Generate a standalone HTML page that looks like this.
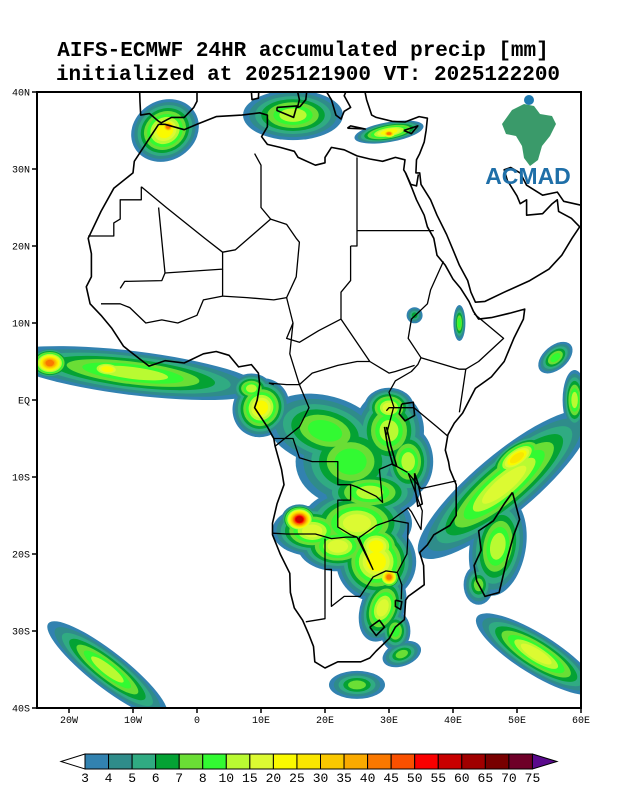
<!DOCTYPE html>
<html><head><meta charset="utf-8">
<style>
html,body{margin:0;padding:0;background:#fff;}
svg{display:block;}
text{font-family:"Liberation Mono",monospace;}
</style></head>
<body>
<svg id="chart" width="618" height="800" viewBox="0 0 618 800" xmlns="http://www.w3.org/2000/svg">
<text x="303" y="56" font-size="21" font-weight="bold" text-anchor="middle">AIFS-ECMWF 24HR accumulated precip [mm]</text>
<text x="308" y="80" font-size="21" font-weight="bold" text-anchor="middle">initialized at 2025121900 VT: 2025122200</text>
<defs><clipPath id="frameClip"><rect x="37" y="92" width="544" height="616"/></clipPath></defs>
<g id="precip" clip-path="url(#frameClip)"></g>
<g id="coast" clip-path="url(#frameClip)" fill="none" stroke="#000" stroke-width="1.6" stroke-linejoin="round"></g>
<rect x="37" y="92" width="544" height="616" fill="none" stroke="#000" stroke-width="2"/>
<g id="axes"></g>
<g id="logo">
  <path d="M512,110 l12,-6 l10,2 l6,8 l12,2 l4,8 l-6,12 l-8,10 l-4,14 l-8,6 l-6,-8 l-2,-12 l-6,-10 l-10,-2 l-4,-10 z" fill="#3a9a6a"/>
  <circle cx="529" cy="100" r="5" fill="#1f7ab0"/>
  <text x="528" y="184" font-size="23" font-weight="bold" fill="#1f6fa8" text-anchor="middle" style="font-family:'Liberation Sans',sans-serif">ACMAD</text>
</g>
<g id="cbar"></g>
</svg>
<script>
// ----- data -----
const lonTicks = [-20,-10,0,10,20,30,40,50,60];
const lonLabels = ["20W","10W","0","10E","20E","30E","40E","50E","60E"];
const latTicks = [40,30,20,10,0,-10,-20,-30,-40];
const latLabels = ["40N","30N","20N","10N","EQ","10S","20S","30S","40S"];
const levelLabels = ["3","4","5","6","7","8","10","15","20","25","30","35","40","45","50","55","60","65","70","75"];
const levelColors = ["#3282b0","#2f8c8a","#30ab82","#04a234","#6ade35","#32fa32","#b9fa32","#dcfa32","#fafa00","#fae600","#fac800","#faaa00","#fa7800","#fa5000","#fa0000","#c80000","#a00000","#780000","#6e0028"];
// precip features: lon, lat, rx(px), ry(px), rotation(deg), peak level index
const featLon  = [-10,-23,-14, 10, 8.5, 20, 24, 30, 33, 27, 25, 28, 30, 28, 22, 16, 18, 29, 31, 48, 50, 59, 56, 47, 44,-14, 53, 32, 25, -5,-4.5, 15, 30, 30, 41, 34, 30];
const featLat  = [3.5, 4.8, 4, -1, 1.5, -4, -8, -4, -8, -12, -16, -21, -23, -19, -19, -15.5, -17, -27, -30, -11, -7.5, 0, 5.5, -19, -24, -35, -33, -33, -37, 35, 35.5, 37, 34.8, 34.6, 10, 11, -1];
const featRx   = [130, 20, 25, 28, 20, 60, 55, 35, 25, 50, 55, 40, 12, 30, 40, 18, 40, 22, 15, 110, 35, 12, 20, 28, 15, 75, 70, 20, 28, 35, 10, 50, 35, 10, 6, 8, 25];
const featRy   = [22, 15, 12, 30, 15, 35, 45, 40, 35, 25, 35, 40, 12, 25, 25, 15, 25, 35, 20, 30, 16, 30, 12, 50, 20, 18, 20, 12, 14, 30, 10, 25, 10, 6, 18, 8, 20];
const featRot  = [7, 0, 5, 30, 0, 15, 0, 0, 0, 0, 0, 0, 0, 0, 0, 0, 0, 20, 0, -40, -35, 0, -40, 10, 0, 38, 32, -20, 0, -30, 0, 0, -10, 0, 0, 0, 0];
const featPeak = [6, 12, 8, 8, 6, 5, 5, 6, 6, 6, 7, 8, 12, 8, 7, 15, 7, 7, 5, 7, 9, 6, 5, 6, 4, 6, 7, 4, 4, 8, 12, 6, 8, 12, 5, 3, 7];

const NS = "http://www.w3.org/2000/svg";
function X(lon){return 37+(lon+25)*6.4;}
function Y(lat){return 92+(40-lat)*7.7;}
function mk(tag, attrs, parent){const e=document.createElementNS(NS,tag);for(const k in attrs)e.setAttribute(k,attrs[k]);parent.appendChild(e);return e;}

// ----- precip -----
const pg=document.getElementById('precip');
const maxPeak=Math.max(...featPeak);
for(let lvl=0;lvl<=maxPeak;lvl++){
  for(let i=0;i<featLon.length;i++){
    const p=featPeak[i];
    if(lvl>p) continue;
    const s=1-0.85*lvl/(p+1);
    const cx=X(featLon[i]), cy=Y(featLat[i]);
    const e=mk('ellipse',{cx:cx,cy:cy,rx:featRx[i]*s,ry:featRy[i]*s,transform:`rotate(${featRot[i]} ${cx} ${cy})`,fill:levelColors[lvl]},pg);
    
    
  }
}

// ----- coastlines (lon,lat) -----
const shapes = [
 [[-6,35.8],[-9.8,31],[-10,29.5],[-13,27.5],[-15,24.5],[-17,21],[-16.5,19],[-16.5,16],[-17.3,14.7],[-16.7,12.5],[-15,11],[-13.3,9.3],[-11.5,7],[-10,6],[-7.5,4.4],[-5,5.1],[-2,4.8],[1,6],[3,6.3],[5,5.8],[6.5,4.3],[8.5,4.6],[9.6,3.5],[9.8,2],[9.4,0],[9,-1],[11,-3.5],[12,-5],[12.2,-6],[13.2,-9],[13.6,-11],[12.5,-13.5],[11.8,-16],[11.8,-17.5],[13,-20],[14.5,-22.5],[14.6,-25],[15.2,-27],[16.5,-28.6],[17.5,-30.5],[18.2,-32],[18.4,-34],[20,-34.8],[22,-34],[25.6,-34],[27,-33.5],[28,-32.6],[30,-31],[31,-29.5],[32.4,-28.5],[32.6,-26],[33,-25.5],[35.5,-24],[35.4,-21.5],[34.8,-19.8],[36,-18.8],[37,-17.5],[39.5,-16.3],[40.5,-15],[40.5,-11],[39.5,-9],[39.3,-8],[38.8,-6.5],[39.2,-4.5],[40.2,-3],[41.5,-1.7],[43.5,1.5],[46,3],[48,5],[49.5,8],[51,10.5],[51.2,11.8],[49,11.3],[46,10.7],[44,10.5],[43.2,11.5],[42.5,12.8],[41.2,14.5],[40,15.7],[38.8,17.5],[37.5,18.8],[37,21],[36,22.5],[35.5,24],[34.3,26],[33.6,27.5],[32.6,29.5],[32.3,29.9],[32.5,31.2],[31,31.5],[29,31],[27,31.3],[25,31.7],[23,32.5],[21,32.8],[20,31.5],[20,30.8],[18.5,30.5],[15.8,31.5],[15.2,32.3],[13,32.8],[11,33.2],[10.1,34.2],[11,35.5],[11,37],[9.8,37.3],[7,37],[3,36.8],[0,35.8],[-2,35.1],[-5,35.8],[-6,35.8]],
 [[-9,41],[-8.9,38.7],[-8.8,37],[-7.4,37.2],[-6,36.2],[-5.6,36],[-4,36.7],[-2,36.7],[-0.5,38],[0,38.8],[0,40],[0.5,41]],
 [[15.6,40.5],[16,39],[15.7,38],[16.1,38.1],[17,39],[17.2,40.5],[18.5,40.2]],
 [[12.5,38],[15.6,38.2],[15.1,36.7],[12.5,37.6],[12.5,38]],
 [[8.4,41],[8.6,39],[9.6,39.2],[9.7,41]],
 [[19.5,41],[21,39],[21.7,37],[22.5,36.5],[23,37.5],[24,38],[23,39.5],[23.5,40.5],[26,41]],
 [[23.5,35.3],[26.3,35.2],[24,35.6],[23.5,35.3]],
 [[26,41],[26.5,39],[27.3,37],[28,36.7],[30.5,36.2],[32.5,36.1],[34.7,36.8],[36,36.6],[35.8,35],[35.5,33.5],[34.8,32],[34.3,31.2],[34.2,29.5],[34.8,29.5],[35,28],[36.5,26],[37.5,24],[39,21.5],[40,19.5],[41,17.5],[42.3,15.5],[42.8,14],[43.5,12.7],[45,12.8],[48,14],[52,15.5],[55,17],[57,18.8],[58.6,21],[59.8,22.5],[58.5,23.6],[56.5,24.5],[56.3,26],[55.5,25.5],[54,24.2],[51.5,24],[51.5,26],[50.5,25.5],[50,26.5],[48.5,28.5],[48,29.9],[49,30.2],[50.5,29.5],[51.5,27.9],[54,26.6],[56.3,27],[57.3,25.8],[60,25.3],[61,25.2]],
 [[32.3,35],[34.5,35.6],[33.5,34.6],[32.3,35]],
 [[32.6,29.5],[33.4,28],[34.3,27.8],[34.6,29.3]],
 [[49.3,-12],[50.4,-15.5],[49.5,-17.5],[48.5,-20.5],[47.2,-25],[45,-25.5],[43.7,-23.5],[43.3,-21.5],[44.4,-19.5],[44,-17],[46.3,-15.7],[48,-13.5],[49.3,-12]],
 [[32,-0.5],[33.8,-0.3],[34,-2],[32.5,-2.7],[31.6,-1.8],[32,-0.5]],
 [[29.3,-3.5],[29.8,-6],[30.6,-8.4],[31.2,-8.6],[30.3,-6],[29.6,-3.5]],
 [[34,-9.5],[34.6,-11],[35.2,-13.5],[34.5,-13.8],[34.1,-11.5],[34,-9.5]],
 [[27,-29.5],[28.5,-28.6],[29.3,-29.5],[28,-30.6],[27,-29.5]],
 [[31,-26],[32,-26.2],[31.8,-27.2],[31,-26.8],[31,-26]],
];
const borders = [
 [[-8.7,27.7],[-4.8,25],[1.2,21],[4,19.2],[6,19.5],[11.5,23.5],[14,22.8],[15.5,21],[16,20.5],[15.5,16],[14,13.3]],
 [[11.5,23.5],[10,25],[10,30.5],[9,32]],
 [[24,20],[25,20],[25,31.5]],
 [[25,22],[37,22]],
 [[24,20],[24,15.5],[22.5,14],[22.5,10.5],[27,5],[30,3.5],[31,3.7],[34,4.5]],
 [[-17,21.3],[-13,21.3],[-13,23],[-12,23.5],[-12,26],[-8.7,26],[-8.7,27.7]],
 [[-6,25],[-5,16.5],[-5.5,15.5],[-11.3,15.4],[-12,14.5]],
 [[-5,16.5],[4,17],[4,19.2]],
 [[4,17],[4,13.5],[1,13],[0,11],[-3,10],[-5.5,10.4],[-8,10],[-10.5,12],[-12,12.5],[-15,12.5]],
 [[4,13.5],[7.8,13.3],[12,13],[14,13.3],[15,10],[14,8],[16,7.5],[19,9],[22.5,10.5]],
 [[15,10],[14.5,6],[16,2],[18,3.5],[22,4.5],[25,5],[27,5]],
 [[12,2],[11.3,2.2],[14,2],[16,2]],
 [[16,2],[17.5,-1],[16,-3.5],[12.2,-6]],
 [[12,-5],[15,-5],[16,-7.5],[18,-8],[22,-8],[22,-11],[24,-11],[24,-13],[22,-13],[22,-16.5],[24,-17.5],[25,-17.8]],
 [[11.8,-17.3],[14,-17.4],[18.5,-17.4],[21,-18],[23.3,-17.8],[25,-17.8]],
 [[20,-18],[20,-22],[20,-24.8],[20,-28.4],[17,-28.8]],
 [[20,-22],[21,-22],[21,-26.8],[23,-25.5],[25.5,-25.5],[27.5,-23],[29.5,-22.2],[31.3,-22.4],[32,-24],[31.9,-25.9]],
 [[25.3,-17.9],[27.5,-22],[25,-17.8]],
 [[25.3,-17.9],[28,-16.3],[30.4,-15.6],[33,-16],[32.9,-18.5],[32.8,-20],[31.3,-22.4]],
 [[30.4,-15.6],[33,-14],[33.5,-14.5],[35,-16.8],[35.2,-14.4],[33,-9.5]],
 [[24,-11],[25,-11.3],[28,-12.5],[29,-13.3],[28.5,-9],[30.5,-8.3],[32.9,-9.4]],
 [[33,-9.5],[35,-11.5],[40.5,-10.5]],
 [[29.6,-4.5],[30.7,-1],[33.9,-1],[37.5,-3.5],[39.2,-4.7]],
 [[29.6,-1.4],[30,-1],[30.8,-1],[30,1],[31,2.5],[33.5,3.7],[34.5,4.6],[35,5.5],[41,4],[42,4],[41,-1.6]],
 [[35,5.5],[33,8],[33.5,10.5],[36,12.5],[36.5,14.3],[38.5,18]],
 [[42,4],[44,5],[47.9,8],[43.3,11.2]],
];
const cg=document.getElementById('coast');
function pathFor(pts){return pts.map((p,i)=>(i?'L':'M')+X(p[0]).toFixed(1)+','+Y(p[1]).toFixed(1)).join(' ');}
shapes.forEach(s=>{
  const e=mk('path',{d:pathFor(s)},cg);
  
  
});
borders.forEach(s=>{
  const e=mk('path',{d:pathFor(s),'stroke-width':'1.3'},cg);
  
  
});

// ----- axes -----
const ag=document.getElementById('axes');
lonTicks.forEach((lon,i)=>{
  const x=X(lon);
  const t=mk('line',{x1:x,y1:708,x2:x,y2:713,stroke:'#000','stroke-width':1.5},ag);
  
  
  const l=mk('text',{x:x,y:723,'font-size':10,'text-anchor':'middle'},ag);
  l.textContent=lonLabels[i];
  
  
});
latTicks.forEach((lat,i)=>{
  const y=Y(lat);
  const t=mk('line',{x1:32,y1:y,x2:37,y2:y,stroke:'#000','stroke-width':1.5},ag);
  
  
  const l=mk('text',{x:30,y:y+3.5,'font-size':10,'text-anchor':'end'},ag);
  l.textContent=latLabels[i];
  
  
});

// ----- colorbar -----
const cb=document.getElementById('cbar');
const bx0=85, bw=23.55, by=754, bh=15;
const la=mk('path',{d:`M${bx0},${by} L61,${by+bh/2} L${bx0},${by+bh} Z`,fill:'#fff',stroke:'#000','stroke-width':1},cb);


levelColors.forEach((c,i)=>{
  const r=mk('rect',{x:bx0+i*bw,y:by,width:bw,height:bh,fill:c,stroke:'#000','stroke-width':1},cb);
  
  
});
const xe=bx0+levelColors.length*bw;
const ra=mk('path',{d:`M${xe},${by} L557,${by+bh/2} L${xe},${by+bh} Z`,fill:'#5a0a8c',stroke:'#000','stroke-width':1},cb);


levelLabels.forEach((s,i)=>{
  const t=mk('text',{x:bx0+i*bw,y:782,'font-size':13,'text-anchor':'middle'},cb);
  t.textContent=s;
  
  
});
</script>
</body></html>
